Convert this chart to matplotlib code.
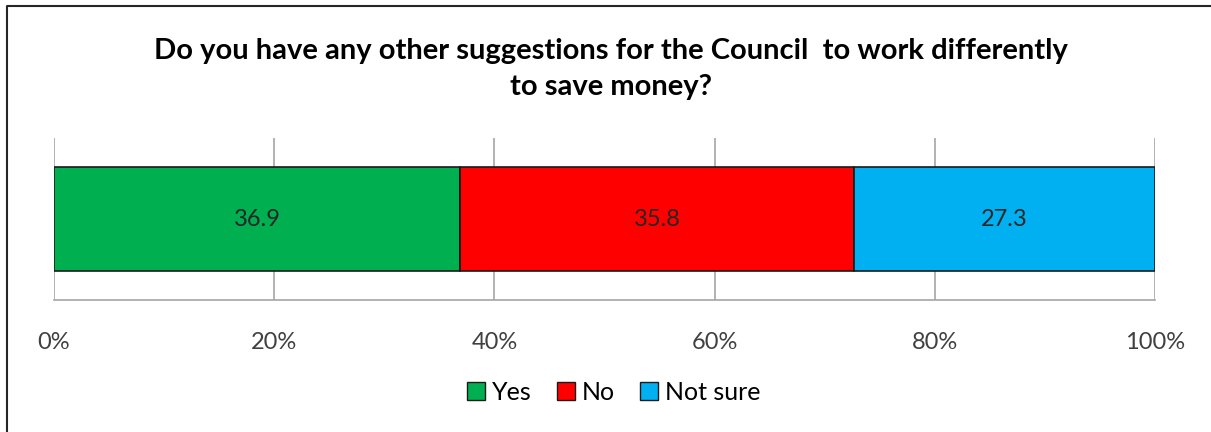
import matplotlib
matplotlib.use('Agg')
import matplotlib.pyplot as plt
from matplotlib.lines import Line2D
from matplotlib.patches import Patch

# data
categories = ['Yes', 'No', 'Not sure']
values = [36.9, 35.8, 27.3]
colors = ['#00B050', '#FF0000', '#00B0F0']
xticks = [0, 20, 40, 60, 80, 100]
xtick_labels = ['0%', '20%', '40%', '60%', '80%', '100%']
title = 'Do you have any other suggestions for the Council  to work differently\nto save money?'

plt.rcParams['font.family'] = ['Lato', 'DejaVu Sans']

W, H = 1211, 432
fig = plt.figure(figsize=(W / 100.0, H / 100.0), dpi=100)
ax = fig.add_axes([54 / W, 1 - 300 / H, (1155 - 54) / W, (300 - 138) / H])

left = 0
for cat, val, col in zip(categories, values, colors):
    ax.barh(0, val, left=left, height=0.642, color=col, edgecolor='#1a1a1a',
            linewidth=1.2, label=cat, zorder=3)
    ax.text(left + val / 2, 0, '%.1f' % val, ha='center', va='center',
            fontsize=17, color='#262626', zorder=4)
    left += val

ax.set_xlim(0, 100)
ax.set_ylim(-0.5, 0.5)
ax.set_xticks(xticks)
ax.set_xticklabels(xtick_labels, fontsize=17, color='#404040')
ax.set_yticks([])
ax.tick_params(axis='x', length=0, pad=23)
ax.grid(axis='x', color='#a6a6a6', linewidth=1.2, zorder=0)

for s in ['top', 'right', 'left']:
    ax.spines[s].set_visible(False)
ax.spines['bottom'].set_color('#a6a6a6')
ax.spines['bottom'].set_linewidth(1.2)

fig.text(611 / W, 1 - 69 / H, title, ha='center', va='center', fontsize=21,
         fontweight='bold', color='black', linespacing=1.45)

handles = [Patch(facecolor=c, edgecolor='#1a1a1a', label=l) for l, c in zip(categories, colors)]
fig.legend(handles=handles, loc='center', bbox_to_anchor=(614 / W, 1 - 392 / H), ncol=3,
           frameon=False, fontsize=18, handlelength=0.7, handleheight=0.7,
           handletextpad=0.3, columnspacing=1.0)

# chart border (left and top edges visible)
fig.add_artist(Line2D([7 / W, 7 / W, 1], [0, 1 - 6 / H, 1 - 6 / H],
                      transform=fig.transFigure, color='#262626', linewidth=1.5))

fig.savefig('out.png', dpi=100)
